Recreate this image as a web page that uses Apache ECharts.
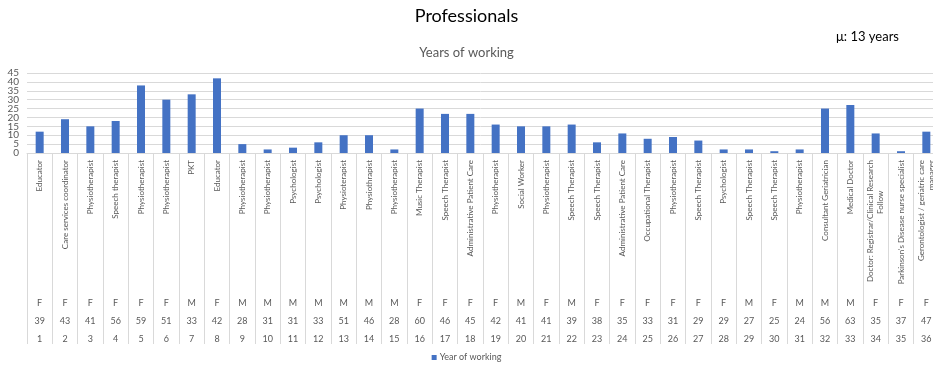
<!DOCTYPE html>
<html>
<head>
<meta charset="utf-8">
<script src="https://cdn.jsdelivr.net/npm/echarts@6/dist/echarts.min.js"></script>
<style>
  html, body { margin: 0; padding: 0; background: #fff; }
  #chart { width: 933px; height: 367px; }
</style>
</head>
<body>
<div id="chart"></div>
<script>
// Participant professions, one per bar
const professions = [
  'Educator', 'Care services coordinator', 'Physiotherapist', 'Speech therapist',
  'Physiotherapist', 'Physiotherapist', 'PKT', 'Educator', 'Physiotherapist',
  'Physiotherapist', 'Psychologist', 'Psychologist', 'Physioterapist', 'Physiothrapist',
  'Physiotherapist', 'Music Therapist', 'Speech Therapist', 'Administrative Patient Care',
  'Physiotherapist', 'Social Worker', 'Physiotherapist', 'Speech Therapist',
  'Speech Therapist', 'Administrative Patient Care', 'Occupational Therapist',
  'Physiotherapist', 'Speech Therapist', 'Psychologist', 'Speech Therapist',
  'Speech Therapist', 'Physiotherapist', 'Consultant Geriatrician', 'Medical Doctor',
  'Doctor: Registrar/Clinical Research\nFollow               ',
  "Parkinson's Disease nurse specialist",
  'Gerontologist / geriatric care\nmanager'
];
const genders = ['F','F','F','F','F','F','M','F','M','M','M','M','M','M','M','F','F','F',
                 'F','M','F','M','F','F','F','F','F','F','M','F','M','M','M','F','F','F'];
const ages = [39,43,41,56,59,51,33,42,28,31,31,33,51,46,28,60,46,45,
              42,41,41,39,38,35,33,31,29,29,27,25,24,56,63,35,37,47];
const ids = Array.from({ length: 36 }, (_, i) => String(i + 1));
const yearsOfWorking = [12,19,15,18,38,30,33,42,5,2,3,6,10,10,2,25,22,22,
                        16,15,15,16,6,11,8,9,7,2,2,1,2,25,27,11,1,12];
const yTicks = { min: 0, max: 45, interval: 5 };

const FONT = 'Lato, "Open Sans", sans-serif';
const GREY = '#595959';
const LINE = '#d9d9d9';

function rowAxis(data, offset) {
  return {
    type: 'category',
    data: data,
    position: 'bottom',
    offset: offset,
    axisLine: { show: false },
    axisTick: { show: false },
    splitLine: { show: false },
    axisLabel: { interval: 0, fontSize: 9, color: GREY, fontFamily: FONT, margin: 0,
                 hideOverlap: false }
  };
}

// The tick labels sit closer than their own height, so they are split over
// two overlaid value axes: one carries the tens, the other the odd fives.
function valueAxis(showTens, withGrid) {
  return {
    type: 'value',
    position: 'left',
    offset: 0,
    min: yTicks.min, max: yTicks.max, interval: yTicks.interval,
    axisLine: { show: false },
    axisTick: { show: false },
    axisLabel: {
      fontSize: 10, color: GREY, fontFamily: FONT, margin: 8,
      showMinLabel: true, showMaxLabel: true,
      formatter: v => ((v % 10 === 0) === showTens ? String(v) : '')
    },
    splitLine: { show: withGrid, lineStyle: { color: LINE } }
  };
}

const chart = echarts.init(document.getElementById('chart'), null, { renderer: 'canvas' });
chart.setOption({
  animation: false,
  title: [
    { text: 'Professionals', left: 'center', top: 2,
      textStyle: { fontSize: 18, fontWeight: 'normal', color: '#000', fontFamily: FONT } },
    { text: 'Years of working', left: 'center', top: 41,
      textStyle: { fontSize: 13, fontWeight: 'normal', color: GREY, fontFamily: FONT } },
    { text: 'μ: 13 years', right: 29, top: 25,
      textStyle: { fontSize: 13, fontWeight: 'normal', color: '#000', fontFamily: FONT } }
  ],
  legend: {
    bottom: 0, left: 'center',
    icon: 'rect', itemWidth: 5, itemHeight: 5, itemGap: 4,
    textStyle: { fontSize: 9, color: GREY, fontFamily: FONT, padding: [0, 0, 0, -2] },
    data: ['Year of working']
  },
  grid: { left: 27, top: 73, width: 912, bottom: 214, containLabel: false,
          outerBoundsMode: 'none' },
  xAxis: [
    {
      type: 'category',
      data: professions,
      axisLine: { lineStyle: { color: LINE } },
      axisTick: { show: true, length: 191, interval: 0, lineStyle: { color: LINE } },
      axisLabel: { interval: 0, rotate: 90, fontSize: 8, color: GREY, fontFamily: FONT,
                   margin: 7, lineHeight: 10, hideOverlap: false }
    },
    rowAxis(genders, 146),
    rowAxis(ages.map(String), 164),
    rowAxis(ids, 182)
  ],
  yAxis: [valueAxis(true, true), valueAxis(false, false)],
  series: [{
    name: 'Year of working',
    type: 'bar',
    data: yearsOfWorking,
    barWidth: 8,
    itemStyle: { color: '#4472C4' }
  }]
});
</script>
</body>
</html>
